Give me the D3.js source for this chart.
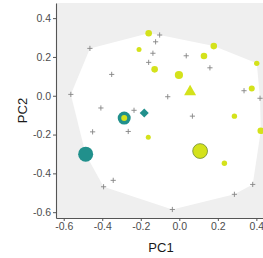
<!DOCTYPE html>
<html>
<head>
<meta charset="utf-8">
<script src="https://cdn.jsdelivr.net/npm/d3@7"></script>
<style>
  body { margin: 0; background: #fff; }
  text { font-family: "Liberation Sans", Arial, sans-serif; }
</style>
</head>
<body>
<div id="chart"></div>
<script>
// reference samples (grey crosses)
var refPC1 = [-0.464, -0.351, -0.563, -0.102, -0.123, -0.137, -0.159, 0.036, 0.159, -0.060, 0.336,
              0.419, -0.407, -0.235, -0.450, -0.265, 0.068, -0.343, -0.393, -0.036, 0.286, 0.381];
var refPC2 = [0.244, 0.110, 0.007, 0.313, 0.278, 0.219, 0.172, 0.206, 0.144, -0.005, 0.026,
              -0.013, -0.063, -0.075, -0.186, -0.184, -0.105, -0.436, -0.469, -0.586, -0.508, -0.457];

// yellow group
var yelPC1  = [-0.159, -0.209, -0.128, -0.002, 0.128, 0.179, 0.402, 0.376, 0.286, 0.423, -0.161, 0.234];
var yelPC2  = [0.322, 0.239, 0.136, 0.107, 0.205, 0.256, 0.167, 0.038, -0.105, -0.180, -0.214, -0.348];
var yelSize = [3.3, 2.5, 3.3, 4.1, 3.3, 3.3, 2.7, 3.0, 2.7, 3.3, 2.5, 2.7];

// teal group
var tealPC1  = [-0.286, -0.486];
var tealPC2  = [-0.115, -0.301];
var tealSize = [6.5, 7.5];

// highlighted samples
var ringPC1 = [-0.286], ringPC2 = [-0.115], ringSize = [3.0];
var bigPC1 = [0.108], bigPC2 = [-0.285], bigSize = [7.4];
var diaPC1 = [-0.182], diaPC2 = [-0.089];
var triPC1 = [0.056], triPC2 = [0.021];

var xTicks = [-0.6, -0.4, -0.2, 0.0, 0.2, 0.4];
var yTicks = [-0.6, -0.4, -0.2, 0.0, 0.2, 0.4];

var W = 263, H = 258;
var teal = "#21908C", yellow = "#D4E21B";

var svg = d3.select("#chart").append("svg")
    .attr("width", W)
    .attr("height", H);

var x = d3.scaleLinear().domain([-0.640, 0.450]).range([56, 266]);
var y = d3.scaleLinear().domain([-0.630, 0.478]).range([218, 3]);
var r = d3.scaleLinear().domain([0, 10]).range([0, 10]);

var zip = function(a, b, s) {
    return a.map(function(d, i) { return { x: d, y: b[i], s: s ? s[i] : 0 }; });
};

var refs = zip(refPC1, refPC2);
var yels = zip(yelPC1, yelPC2, yelSize);
var teals = zip(tealPC1, tealPC2, tealSize);

// panel background
svg.append("rect")
    .attr("x", 56).attr("y", 3)
    .attr("width", 210).attr("height", 215)
    .attr("fill", "#EFEFEF");

// hull over every sample
var all = refs.concat(yels, teals, zip(bigPC1, bigPC2), zip(diaPC1, diaPC2), zip(triPC1, triPC2));
var hull = d3.polygonHull(all.map(function(d) { return [x(d.x), y(d.y)]; }));
svg.append("path")
    .attr("d", "M" + hull.join("L") + "Z")
    .attr("fill", "#fff");

// grey crosses
svg.append("g").selectAll("path")
    .data(refs).enter().append("path")
    .attr("d", function(d) {
        var cx = x(d.x), cy = y(d.y), a = 2.6;
        return "M" + (cx - a) + "," + cy + "H" + (cx + a) + "M" + cx + "," + (cy - a) + "V" + (cy + a);
    })
    .attr("stroke", "#858585")
    .attr("stroke-width", 0.9);

// teal circles
svg.append("g").selectAll("circle")
    .data(teals).enter().append("circle")
    .attr("cx", function(d) { return x(d.x); })
    .attr("cy", function(d) { return y(d.y); })
    .attr("r", function(d) { return r(d.s); })
    .attr("fill", teal);

// yellow circles
svg.append("g").selectAll("circle")
    .data(yels.concat(zip(ringPC1, ringPC2, ringSize))).enter().append("circle")
    .attr("cx", function(d) { return x(d.x); })
    .attr("cy", function(d) { return y(d.y); })
    .attr("r", function(d) { return r(d.s); })
    .attr("fill", yellow);

// big outlined yellow
svg.append("g").selectAll("circle")
    .data(zip(bigPC1, bigPC2, bigSize)).enter().append("circle")
    .attr("cx", function(d) { return x(d.x); })
    .attr("cy", function(d) { return y(d.y); })
    .attr("r", function(d) { return r(d.s); })
    .attr("fill", yellow)
    .attr("stroke", "#6F8B34")
    .attr("stroke-width", 0.8);

// diamond
svg.append("g").selectAll("path")
    .data(zip(diaPC1, diaPC2)).enter().append("path")
    .attr("d", d3.symbol(d3.symbolSquare, 41))
    .attr("transform", function(d) { return "translate(" + x(d.x) + "," + y(d.y) + ") rotate(45)"; })
    .attr("fill", teal);

// triangle
svg.append("g").selectAll("path")
    .data(zip(triPC1, triPC2)).enter().append("path")
    .attr("d", d3.symbol(d3.symbolTriangle, 62))
    .attr("transform", function(d) { return "translate(" + x(d.x) + "," + y(d.y) + ")"; })
    .attr("fill", yellow);

// axes
var fmt = function(d) { return d3.format(".1f")(d).replace("\u2212", "-"); };

var gx = svg.append("g")
    .attr("transform", "translate(0,218)")
    .call(d3.axisBottom(x).tickValues(xTicks).tickFormat(fmt).tickSize(3).tickSizeOuter(0).tickPadding(2));
var gy = svg.append("g")
    .attr("transform", "translate(56,0)")
    .call(d3.axisLeft(y).tickValues(yTicks).tickFormat(fmt).tickSize(3).tickSizeOuter(0).tickPadding(2));

[gx, gy].forEach(function(g) {
    g.select(".domain").attr("stroke", "#555").attr("stroke-width", 1.1);
    g.selectAll(".tick line").attr("stroke", "#555");
    g.selectAll(".tick text")
        .attr("fill", "#4D4D4D")
        .style("font-size", "10.5px")
        .style("font-family", "'Liberation Sans', Arial, sans-serif");
});

svg.append("text")
    .attr("x", 161)
    .attr("y", 251.5)
    .attr("text-anchor", "middle")
    .attr("fill", "#1a1a1a")
    .style("font-size", "13px")
    .text("PC1");

svg.append("text")
    .attr("transform", "translate(26.5,110.5) rotate(-90)")
    .attr("text-anchor", "middle")
    .attr("fill", "#1a1a1a")
    .style("font-size", "13px")
    .text("PC2");
</script>
</body>
</html>
